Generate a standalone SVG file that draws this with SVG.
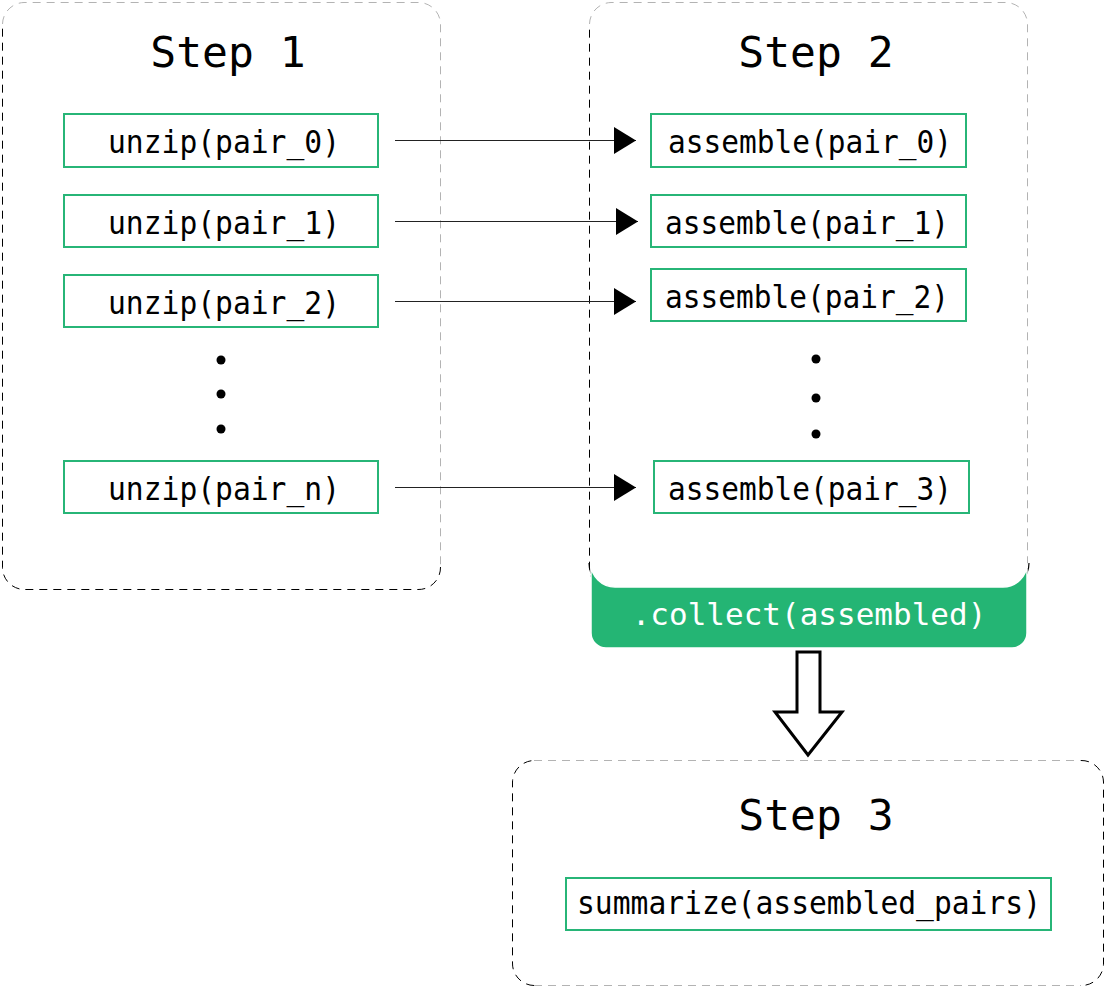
<svg xmlns="http://www.w3.org/2000/svg" width="1105" height="986" viewBox="0 0 1105 986">
<style>
.bg{fill:#fff}
.dk{fill:none;stroke:#000;stroke-width:1;stroke-dasharray:8 6}
.lt{fill:none;stroke:#b3b3b3;stroke-width:1;stroke-dasharray:8 6}
.node{fill:#fff;stroke:#27b577;stroke-width:2}
.t{font-family:"DejaVu Sans Mono",monospace;font-size:32px;fill:#000;text-anchor:middle}
.title{font-family:"DejaVu Sans Mono",monospace;font-size:43px;fill:#000;text-anchor:middle}
.conn{stroke:#222;stroke-width:1;fill:none}
.dot{fill:#000}
</style>
<defs>
<marker id="ah" markerUnits="userSpaceOnUse" markerWidth="23" markerHeight="28" refX="22" refY="13.5" orient="auto">
<path d="M0,0 L22,13.5 L0,27 Z" fill="#000"/>
</marker>
</defs>
<rect class="bg" x="0" y="0" width="1105" height="986"/>

<g id="step1">
<path class="lt" d="M2.5,24 A22,22 0 0 1 24,2.5 H418 A22,22 0 0 1 440.5,24 V567"/>
<path class="dk" d="M440.5,567 A22,22 0 0 1 418,589.5 H24 A22,22 0 0 1 2.5,567 V24"/>
<text class="title" x="228" y="67">Step 1</text>
</g>
<g id="step2">
<path class="lt" d="M589.5,24 A22,22 0 0 1 611,2.5 H1005 A22,22 0 0 1 1027.5,24 V568"/>
<path class="dk" d="M1027.5,568 A22,22 0 0 1 1005,590.5 H611 A22,22 0 0 1 589.5,568 V24"/>
<text class="title" x="816" y="67">Step 2</text>
</g>
<g id="step3">
<path class="lt" d="M534,760.5 H1081 M534,985.5 H1081"/>
<path class="dk" d="M1081,760.5 A22,22 0 0 1 1103.5,782 V963 A22,22 0 0 1 1081,985.5 M534,985.5 A22,22 0 0 1 512.5,963 V782 A22,22 0 0 1 534,760.5"/>
<text class="title" x="816" y="830">Step 3</text>
</g>

<g id="unzip0"><rect class="node" x="64" y="114" width="314" height="53"/><text class="t" x="224" y="153" textLength="232" lengthAdjust="spacingAndGlyphs">unzip(pair_0)</text></g>
<g id="unzip1"><rect class="node" x="64" y="195" width="314" height="52"/><text class="t" x="224" y="234" textLength="232" lengthAdjust="spacingAndGlyphs">unzip(pair_1)</text></g>
<g id="unzip2"><rect class="node" x="64" y="275" width="314" height="52"/><text class="t" x="224" y="314" textLength="232" lengthAdjust="spacingAndGlyphs">unzip(pair_2)</text></g>
<g id="dots1"><circle class="dot" cx="221" cy="360" r="4.5"/><circle class="dot" cx="221" cy="394" r="4.5"/><circle class="dot" cx="221" cy="429" r="4.5"/></g>
<g id="unzipn"><rect class="node" x="64" y="461" width="314" height="52"/><text class="t" x="224" y="500" textLength="232" lengthAdjust="spacingAndGlyphs">unzip(pair_n)</text></g>

<g id="asm0"><rect class="node" x="651" y="114" width="315" height="53"/><text class="t" x="810" y="153" textLength="284" lengthAdjust="spacingAndGlyphs">assemble(pair_0)</text></g>
<g id="asm1"><rect class="node" x="651" y="195" width="315" height="52"/><text class="t" x="807" y="234" textLength="284" lengthAdjust="spacingAndGlyphs">assemble(pair_1)</text></g>
<g id="asm2"><rect class="node" x="651" y="269" width="315" height="52"/><text class="t" x="807" y="308" textLength="284" lengthAdjust="spacingAndGlyphs">assemble(pair_2)</text></g>
<g id="dots2"><circle class="dot" cx="816" cy="359" r="4.5"/><circle class="dot" cx="816" cy="398" r="4.5"/><circle class="dot" cx="816" cy="434" r="4.5"/></g>
<g id="asm3"><rect class="node" x="654" y="461" width="315" height="52"/><text class="t" x="810" y="500" textLength="284" lengthAdjust="spacingAndGlyphs">assemble(pair_3)</text></g>

<g id="collect">
<path d="M589,563 A26,26 0 0 0 615,589 M1003,589 A26,26 0 0 0 1029,563" fill="none" stroke="#000" stroke-width="1.2"/>
<path d="M591,563 A24,24 0 0 0 615,587 H1003 A24,24 0 0 0 1027,563 V633 A15,15 0 0 1 1012,648 H606 A15,15 0 0 1 591,633 Z" fill="#24b574" stroke="#fff" stroke-width="1.5"/>
<text x="809" y="625" font-family="DejaVu Sans Mono, monospace" font-size="31" fill="#fff" text-anchor="middle">.collect(assembled)</text>
</g>

<g id="summarize"><rect class="node" x="566" y="878" width="485" height="52"/><text class="t" x="809" y="914" textLength="464" lengthAdjust="spacingAndGlyphs">summarize(assembled_pairs)</text></g>

<g id="connectors">
<line class="conn" x1="395" y1="140.5" x2="636" y2="140.5" marker-end="url(#ah)"/>
<line class="conn" x1="395" y1="221.5" x2="638" y2="221.5" marker-end="url(#ah)"/>
<line class="conn" x1="395" y1="301.5" x2="636" y2="301.5" marker-end="url(#ah)"/>
<line class="conn" x1="395" y1="487.5" x2="636" y2="487.5" marker-end="url(#ah)"/>
<polygon points="797,652 820,652 820,712 842,712 808,755 775,712 797,712" fill="#fff" stroke="#000" stroke-width="3" stroke-linejoin="miter"/>
</g>
</svg>
